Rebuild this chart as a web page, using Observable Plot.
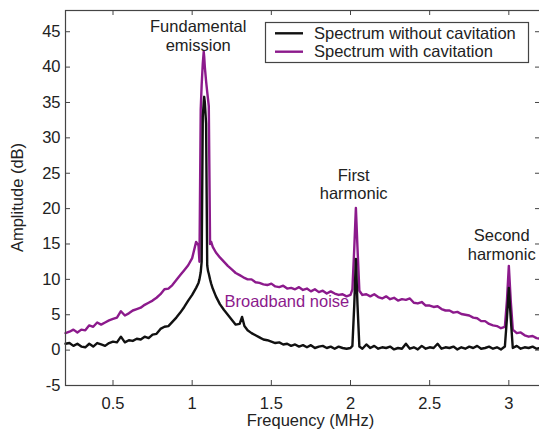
<!DOCTYPE html>
<html><head><meta charset="utf-8">
<script src="https://cdn.jsdelivr.net/npm/d3@7"></script>
<script src="https://cdn.jsdelivr.net/npm/@observablehq/plot@0.6"></script>
<style>
html,body{margin:0;padding:0;background:#fff;}
#chart{position:relative;width:539px;height:437px;overflow:hidden;}
</style></head><body><div id="chart"></div>
<script>
// Frequency samples (MHz)
const freq = [
  0.200,0.225,0.250,0.275,0.300,0.325,0.350,0.375,0.400,0.425,
  0.450,0.475,0.500,0.525,0.550,0.575,0.600,0.625,0.650,0.675,
  0.700,0.725,0.750,0.775,0.800,0.825,0.850,0.875,0.900,0.925,
  0.950,0.975,1.000,1.025,
  1.040,1.046,1.054,1.060,1.067,1.073,1.076,1.080,1.088,1.095,1.100,1.105,1.113,1.120,1.130,
  1.150,1.175,1.200,1.225,1.250,1.275,1.300,1.315,1.330,1.350,
  1.375,1.400,1.425,1.450,1.475,1.500,1.525,1.550,1.575,1.600,
  1.625,1.650,1.675,1.700,1.725,1.750,1.775,1.800,1.825,1.850,
  1.875,1.900,1.925,1.950,1.975,2.000,
  2.012,2.024,2.034,2.044,2.056,
  2.075,2.100,2.125,2.150,2.175,2.200,2.225,2.250,2.275,2.300,
  2.325,2.350,2.375,2.400,2.425,2.450,2.475,2.500,2.525,2.550,
  2.575,2.600,2.625,2.650,2.675,2.700,2.725,2.750,2.775,2.800,
  2.825,2.850,2.875,2.900,2.925,2.950,2.975,
  2.988,3.000,3.012,
  3.025,3.050,3.075,3.100,3.125,3.150,3.175,3.200
];
// Amplitude (dB) – spectrum with cavitation
const withCavitation = [
  2.4,2.6,2.9,2.5,2.9,2.8,3.5,3.3,3.9,3.6,
  3.9,4.2,4.4,4.6,5.5,4.9,5.2,5.6,5.8,6.0,
  6.4,6.7,7.0,7.4,7.9,8.6,8.7,9.2,9.9,10.6,
  11.3,12.0,13.0,15.3,
  14.8,12.5,34.0,37.5,40.5,42.2,41.5,40.0,38.0,36.5,35.5,34.5,15.0,15.3,14.6,
  13.8,13.1,12.5,11.9,11.4,10.9,10.6,10.4,10.2,10.0,
  10.0,9.6,9.5,9.3,9.2,9.4,9.0,8.9,9.1,8.7,
  8.8,8.6,8.9,8.5,8.7,8.3,8.6,8.2,8.4,8.0,
  8.3,8.0,7.8,7.9,7.6,7.8,
  8.6,14.5,20.1,14.5,8.4,
  7.8,7.9,7.6,7.9,7.5,7.3,7.6,7.2,7.4,7.0,
  7.2,7.1,7.3,6.7,6.6,6.8,6.3,6.3,6.1,6.2,
  5.8,5.6,5.6,5.3,5.4,5.1,5.0,4.9,4.6,4.5,
  4.1,4.1,3.7,3.5,3.4,3.1,3.3,
  7.0,11.9,7.0,
  2.9,2.4,2.5,2.1,1.9,2.0,1.7,1.6
];
// Amplitude (dB) – spectrum without cavitation
const withoutCavitation = [
  0.9,1.0,0.6,0.9,0.5,0.4,0.9,0.5,1.0,0.8,
  0.6,1.0,1.2,1.1,1.9,1.1,1.4,1.3,1.6,1.5,
  1.9,1.7,2.2,2.3,3.0,3.3,3.4,4.0,4.6,5.3,
  6.1,7.0,7.8,8.8,
  9.5,10.0,11.0,12.5,33.0,35.0,35.8,35.0,32.0,12.0,11.2,10.8,10.0,9.4,8.7,
  7.6,6.5,5.7,5.0,4.3,3.6,3.7,4.7,3.4,2.8,
  2.4,2.1,1.8,1.5,1.4,1.2,1.0,1.1,0.8,0.9,
  0.6,0.8,0.5,0.7,0.4,0.7,0.3,0.5,0.6,0.3,
  0.5,0.2,0.5,0.3,0.2,0.3,
  0.6,6.5,12.9,6.5,0.5,
  0.2,0.8,0.3,0.6,0.2,0.4,0.3,0.5,0.1,0.3,
  0.2,0.9,0.2,0.4,0.1,0.6,0.2,0.4,0.3,0.9,
  0.2,0.4,0.3,0.5,0.1,0.4,0.2,0.5,0.3,0.6,
  0.2,0.3,0.5,0.2,0.4,0.1,0.5,
  4.5,8.8,4.5,
  0.3,0.6,0.2,0.4,0.3,0.5,0.2,0.3
];
const xTicks = [0.5, 1, 1.5, 2, 2.5, 3];
const yTicks = [-5, 0, 5, 10, 15, 20, 25, 30, 35, 40, 45];
const seriesNames = ["Spectrum without cavitation", "Spectrum with cavitation"];
const seriesColors = ["#111111", "#8c1a8c"];

if (freq.length !== withCavitation.length || freq.length !== withoutCavitation.length) {
  throw new Error("length mismatch " + freq.length + " " + withCavitation.length + " " + withoutCavitation.length);
}

const rowsWith = freq.map((f, i) => ({f, a: withCavitation[i]}));
const rowsWithout = freq.map((f, i) => ({f, a: withoutCavitation[i]}));
const axisColor = "#444";
const textColor = "#222";

const plot = Plot.plot({
  width: 539, height: 437,
  marginLeft: 65, marginRight: -1, marginTop: 10, marginBottom: 52,
  x: {domain: [0.2, 3.2]},
  y: {domain: [-5, 48]},
  style: {fontFamily: "'Liberation Sans', Arial, sans-serif", fontSize: "16.5px", color: textColor, background: "white"},
  marks: [
    Plot.lineY(rowsWith, {x: "f", y: "a", stroke: seriesColors[1], strokeWidth: 2.4, strokeLinejoin: "round"}),
    Plot.lineY(rowsWithout, {x: "f", y: "a", stroke: seriesColors[0], strokeWidth: 2.4, strokeLinejoin: "round"}),
    Plot.frame({stroke: axisColor, strokeWidth: 1.2}),
    Plot.tickX(xTicks, {x: d => d, insetTop: 370, stroke: axisColor}),
    Plot.tickX(xTicks, {x: d => d, insetBottom: 370, stroke: axisColor}),
    Plot.tickY(yTicks, {y: d => d, insetRight: 470, stroke: axisColor}),
    Plot.tickY(yTicks, {y: d => d, insetLeft: 470, stroke: axisColor}),
    Plot.axisX({ticks: xTicks, tickSize: 0, tickPadding: 12, label: null, tickFormat: d => String(d)}),
    Plot.axisY({ticks: yTicks, tickSize: 0, tickPadding: 5, label: null, tickFormat: d => String(d)}),
    Plot.text(["Fundamental\nemission"], {x: 1.038, y: 44.5, text: d => d, lineAnchor: "middle", lineHeight: 1.2, fill: textColor}),
    Plot.text(["First\nharmonic"], {x: 2.02, y: 23.4, text: d => d, lineAnchor: "middle", lineHeight: 1.1, fill: textColor}),
    Plot.text(["Second\nharmonic"], {x: 2.955, y: 14.9, text: d => d, lineAnchor: "middle", lineHeight: 1.1, fill: textColor}),
    Plot.text(["Broadband noise"], {x: 1.204, y: 6.87, text: d => d, textAnchor: "start", lineAnchor: "middle", fill: seriesColors[1]})
  ]
});
document.getElementById("chart").appendChild(plot);

const svg = d3.select(plot);
const font = "'Liberation Sans', Arial, sans-serif";
// axis titles
svg.append("text").attr("transform", "translate(23,197.5) rotate(-90)")
  .attr("text-anchor", "middle").attr("fill", textColor).attr("font-size", "16.5px").attr("font-family", font)
  .text("Amplitude (dB)");
svg.append("text").attr("x", 310.5).attr("y", 426)
  .attr("text-anchor", "middle").attr("fill", textColor).attr("font-size", "16.5px").attr("font-family", font)
  .text("Frequency (MHz)");
// legend
const lg = svg.append("g");
lg.append("rect").attr("x", 265.5).attr("y", 22.5).attr("width", 263).attr("height", 40)
  .attr("fill", "white").attr("stroke", axisColor).attr("stroke-width", 1.2);
seriesNames.forEach((name, i) => {
  const cy = 33.3 + i * 18.4;
  lg.append("line").attr("x1", 275).attr("x2", 303).attr("y1", cy).attr("y2", cy)
    .attr("stroke", seriesColors[i]).attr("stroke-width", 2.4);
  lg.append("text").attr("x", 314).attr("y", cy + 5.6).attr("fill", textColor)
    .attr("text-anchor", "start").attr("font-size", "16.5px").attr("font-family", font).text(name);
});
</script></body></html>
